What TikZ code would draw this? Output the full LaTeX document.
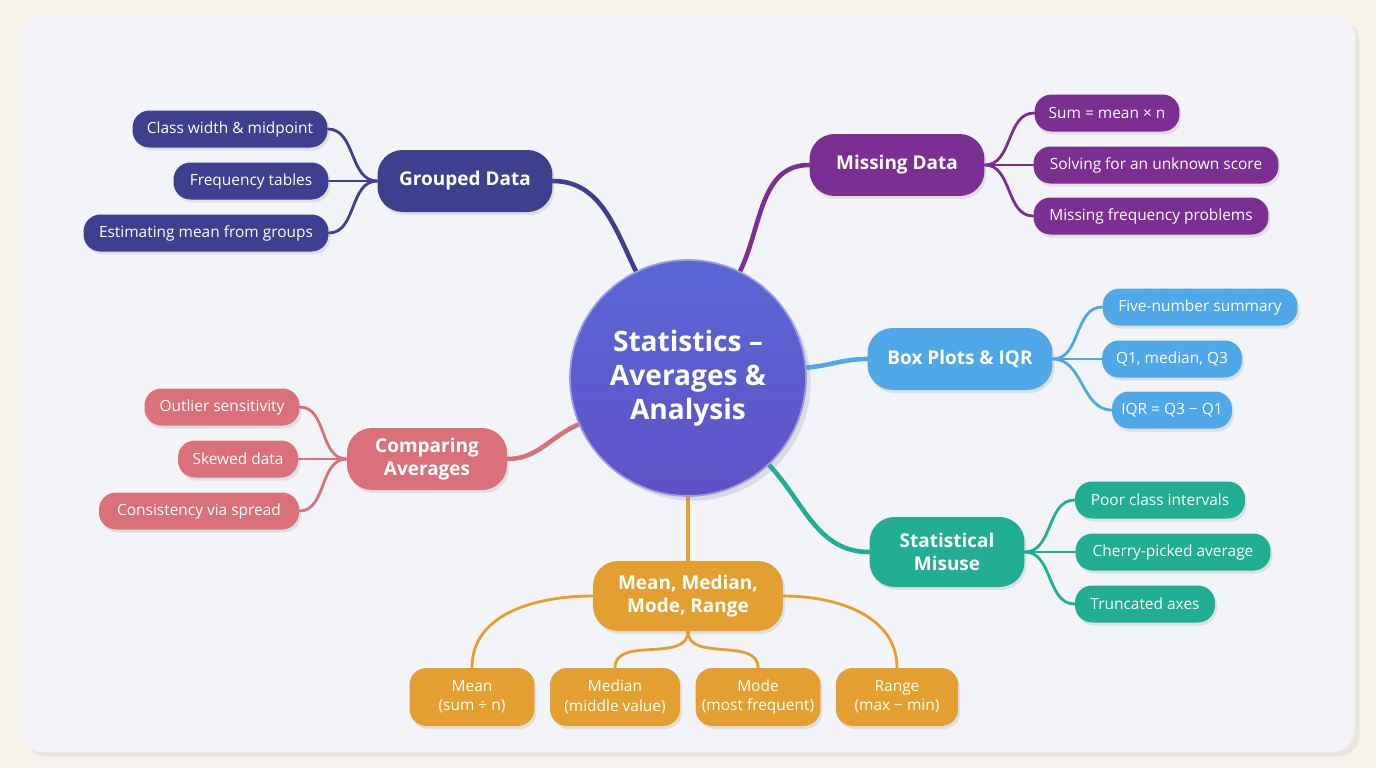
\documentclass[tikz,border=0pt]{standalone}
\usepackage{fontspec}
\setmainfont{Open Sans}
\usetikzlibrary{shadows,backgrounds}
\definecolor{bgout}{HTML}{F7F2EA}
\definecolor{card}{HTML}{F3F4F8}
\definecolor{cind}{HTML}{3F3F8F}
\definecolor{cpur}{HTML}{7B2F93}
\definecolor{cblu}{HTML}{4FA8E8}
\definecolor{cpin}{HTML}{D9707A}
\definecolor{ctea}{HTML}{22AE94}
\definecolor{cora}{HTML}{E3A030}
\definecolor{cctr}{HTML}{5B57D0}
\tikzset{
 base/.style={rounded corners=0.34cm, text=white, align=center, inner sep=0pt,
   drop shadow={opacity=0.18, shadow xshift=0.04cm, shadow yshift=-0.06cm}},
 main/.style={base, minimum height=1.24cm, font=\fontsize{10.8}{13}\selectfont\bfseries, rounded corners=0.5cm},
 leaf/.style={base, minimum height=0.74cm, font=\fontsize{8.8}{11}\selectfont},
 leaf2/.style={base, minimum height=1.16cm, font=\fontsize{8.8}{11}\selectfont},
 mc/.style={line width=2.6pt, line cap=round},
 lc/.style={line width=1.6pt, line cap=round},
}
\begin{document}
\begin{tikzpicture}[x=0.02cm,y=-0.02cm]
\begin{scope}[on background layer]
\fill[bgout] (0,0) rectangle (1376,768);
\fill[card, drop shadow={opacity=0.1}] [rounded corners=0.45cm] (20,15) rectangle (1355,752);
\end{scope}
\useasboundingbox (0,0) rectangle (1376,768);

\node[circle, minimum size=4.72cm, top color=cctr!80!cblu, bottom color=cctr!85!cpur, text=white,
  font=\fontsize{16}{19.5}\selectfont\bfseries, align=center, draw=cctr!60!white, line width=1pt,
  drop shadow={opacity=0.2}] (c) at (688,378) {Statistics –\\Averages \&\\Analysis};

% main nodes
\node[main, fill=cind, minimum width=3.5cm] (gd) at (465,181) {Grouped Data};
\node[main, fill=cpur, minimum width=3.5cm] (md) at (897,165) {Missing Data};
\node[main, fill=cblu, minimum width=3.7cm] (bp) at (960,359) {Box Plots \& IQR};
\node[main, fill=cpin, minimum width=3.2cm] (ca) at (427,459) {Comparing\\Averages};
\node[main, fill=ctea, minimum width=3.1cm, minimum height=1.4cm] (sm) at (947,552) {Statistical\\Misuse};
\node[main, fill=cora, minimum width=3.8cm, minimum height=1.4cm] (mm) at (688,596) {Mean, Median,\\Mode, Range};

% leaves
\node[leaf, fill=cind, minimum width=3.9cm] (g1) at (230,129) {Class width \& midpoint};
\node[leaf, fill=cind, minimum width=3.1cm] (g2) at (251,181) {Frequency tables};
\node[leaf, fill=cind, minimum width=4.9cm] (g3) at (206,233) {Estimating mean from groups};
\node[leaf, fill=cpur, minimum width=2.9cm] (m1) at (1107,113) {Sum = mean × n};
\node[leaf, fill=cpur, minimum width=4.9cm] (m2) at (1156,165) {Solving for an unknown score};
\node[leaf, fill=cpur, minimum width=4.7cm] (m3) at (1151,216) {Missing frequency problems};
\node[leaf, fill=cblu, minimum width=3.9cm] (b1) at (1200,307) {Five-number summary};
\node[leaf, fill=cblu, minimum width=2.8cm] (b2) at (1172,359) {Q1, median, Q3};
\node[leaf, fill=cblu, minimum width=2.4cm] (b3) at (1172,410) {IQR = Q3 − Q1};
\node[leaf, fill=cpin, minimum width=3.1cm] (p1) at (222,407) {Outlier sensitivity};
\node[leaf, fill=cpin, minimum width=2.4cm] (p2) at (238,459) {Skewed data};
\node[leaf, fill=cpin, minimum width=4.0cm] (p3) at (199,511) {Consistency via spread};
\node[leaf, fill=ctea, minimum width=3.4cm] (s1) at (1160,500) {Poor class intervals};
\node[leaf, fill=ctea, minimum width=3.9cm] (s2) at (1173,552) {Cherry-picked average};
\node[leaf, fill=ctea, minimum width=2.8cm] (s3) at (1145,604) {Truncated axes};
\node[leaf2, fill=cora, minimum width=2.5cm] (o1) at (472,697) {Mean\\(sum ÷ n)};
\node[leaf2, fill=cora, minimum width=2.6cm] (o2) at (615,697) {Median\\(middle value)};
\node[leaf2, fill=cora, minimum width=2.5cm] (o3) at (758,697) {Mode\\(most frequent)};
\node[leaf2, fill=cora, minimum width=2.45cm] (o4) at (897,697) {Range\\(max − min)};

\begin{scope}[on background layer]
\draw[mc, cind] (c.116) to[out=116,in=0] (gd.east);
\draw[mc, cpur] (c.64) to[out=64,in=180] (md.west);
\draw[mc, cblu] (c.5) to[out=5,in=180] (bp.west);
\draw[mc, cpin] (c.203) to[out=203,in=0] (ca.east);
\draw[mc, ctea] (c.-47) to[out=-47,in=180] (sm.west);
\draw[mc, cora] (c.270) -- (mm.north);
\foreach \n in {g1,g2,g3} \draw[lc, cind] (gd.west) to[out=180,in=0] (\n.east);
\foreach \n in {m1,m2,m3} \draw[lc, cpur] (md.east) to[out=0,in=180] (\n.west);
\foreach \n in {b1,b2,b3} \draw[lc, cblu] (bp.east) to[out=0,in=180] (\n.west);
\foreach \n in {p1,p2,p3} \draw[lc, cpin] (ca.west) to[out=180,in=0] (\n.east);
\foreach \n in {s1,s2,s3} \draw[lc, ctea] (sm.east) to[out=0,in=180] (\n.west);
\draw[lc, cora] (mm.west) to[out=180,in=90] (o1.north);
\draw[lc, cora] (mm.east) to[out=0,in=90] (o4.north);
\draw[lc, cora] (mm.south) to[out=-90,in=90] (o2.north);
\draw[lc, cora] (mm.south) to[out=-90,in=90] (o3.north);
\end{scope}
\end{tikzpicture}
\end{document}
